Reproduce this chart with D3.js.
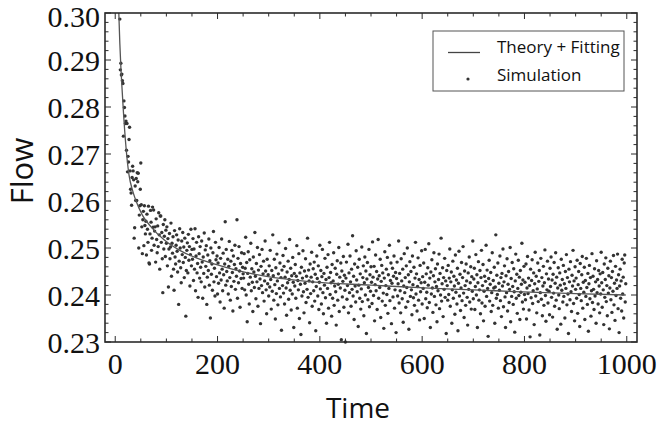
<!DOCTYPE html>
<html><head><meta charset="utf-8">
<script src="https://cdn.jsdelivr.net/npm/d3@7"></script>
<style>html,body{margin:0;padding:0;background:#fff;}svg{display:block;}</style>
</head><body>
<svg id="chart" width="659" height="428"></svg>
<script>
// ---------------- data ----------------
const xTicks = [0, 200, 400, 600, 800, 1000];
const yTicks = [0.23, 0.24, 0.25, 0.26, 0.27, 0.28, 0.29, 0.30];
const yTickLabels = ["0.23", "0.24", "0.25", "0.26", "0.27", "0.28", "0.29", "0.30"];
const xLabel = "Time";
const yLabel = "Flow";
const legendLabels = ["Theory + Fitting", "Simulation"];

// theory + fitting curve
const fitTime = [7, 9, 11, 13, 16, 21, 27, 34, 40, 53, 70, 96, 128, 161, 193, 240, 293, 384, 500, 604, 700, 811, 900, 998];
const fitFlow = [0.3000, 0.2935, 0.2885, 0.2845, 0.2790, 0.2715, 0.2655, 0.2622, 0.2602, 0.2570, 0.2545, 0.2517, 0.2494, 0.2478, 0.2466, 0.2452, 0.2440, 0.2428, 0.2421, 0.2415, 0.2411, 0.2406, 0.2403, 0.2400];

// simulation samples, one per time step starting at t = 9
const simStart = 9;
const simFlow = [
.2987,.2879,.2893,.2868,.2870,.2856,.2850,.2738,.2813,.2799,.2781,.2765,.2770,.2708,.2765,.2662,.2695,.2683,.2731,.2757,.2664,.2625,.2617,.2591,.2650,.2674,.2664,.2645,.2521,.2543,.2632,.2601,.2648,.2601,.2660,.2641,.2659,.2500,.2570,.2590,.2625,.2681,
.2592,.2545,.2488,.2560,.2578,.2505,.2590,.2548,.2530,.2557,.2485,.2572,.2540,.2512,.2589,.2468,.2466,.2530,.2580,.2555,.2495,.2521,.2587,.2544,.2581,.2506,.2536,.2545,.2470,.2562,.2518,.2490,.2547,.2503,.2575,.2528,.2455,.2568,.2568,.2512,.2533,.2477,.2405,.2550,.2498,.2525,.2560,.2482,.2538,.2510,
.2545,.2462,.2520,.2417,.2498,.2531,.2477,.2502,.2553,.2440,.2510,.2489,.2524,.2455,.2410,.2537,.2481,.2466,.2506,.2528,.2493,.2449,.2517,.2380,.2472,.2541,.2500,.2458,.2426,.2515,.2486,.2533,.2469,.2502,.2437,.2521,.2480,.2355,.2452,.2495,.2511,.2447,.2529,.2474,.2503,.2419,.2486,.2540,.2462,.2497,
.2476,.2520,.2431,.2498,.2455,.2541,.2409,.2483,.2512,.2447,.2467,.2395,.2524,.2488,.2436,.2503,.2459,.2428,.2515,.2470,.2393,.2481,.2446,.2532,.2417,.2496,.2461,.2505,.2380,.2438,.2485,.2452,.2519,.2421,.2473,.2351,.2500,.2444,.2466,.2410,.2490,.2535,.2428,.2457,.2398,.2512,.2475,.2439,.2483,.2402,
.2468,.2425,.2501,.2447,.2385,.2478,.2432,.2519,.2455,.2409,.2489,.2443,.2372,.2466,.2556,.2421,.2497,.2450,.2430,.2476,.2402,.2461,.2514,.2437,.2389,.2472,.2418,.2495,.2448,.2366,.2483,.2429,.2465,.2506,.2412,.2456,.2440,.2560,.2393,.2478,.2426,.2503,.2451,.2374,.2467,.2435,.2490,.2414,.2459,.2445,
.2436,.2488,.2411,.2457,.2523,.2400,.2469,.2343,.2446,.2492,.2423,.2381,.2475,.2438,.2510,.2409,.2456,.2427,.2365,.2481,.2449,.2416,.2533,.2440,.2392,.2467,.2428,.2501,.2376,.2453,.2414,.2486,.2434,.2339,.2461,.2420,.2497,.2405,.2445,.2472,.2387,.2430,.2515,.2451,.2411,.2360,.2476,.2424,.2443,.2398,
.2462,.2417,.2495,.2433,.2370,.2452,.2408,.2528,.2441,.2389,.2476,.2422,.2349,.2458,.2403,.2487,.2430,.2379,.2445,.2511,.2414,.2468,.2396,.2437,.2325,.2453,.2420,.2484,.2404,.2461,.2381,.2438,.2499,.2415,.2357,.2449,.2426,.2472,.2391,.2433,.2518,.2410,.2457,.2368,.2441,.2402,.2480,.2427,.2331,.2446,
.2419,.2465,.2393,.2440,.2505,.2372,.2431,.2411,.2488,.2350,.2447,.2423,.2316,.2459,.2398,.2436,.2494,.2407,.2362,.2451,.2425,.2477,.2384,.2440,.2412,.2521,.2395,.2453,.2430,.2341,.2466,.2403,.2438,.2491,.2376,.2428,.2456,.2409,.2470,.2387,.2444,.2324,.2418,.2483,.2435,.2398,.2462,.2369,.2427,.2506,
.2413,.2452,.2381,.2439,.2497,.2405,.2360,.2446,.2421,.2478,.2394,.2433,.2340,.2459,.2414,.2486,.2372,.2437,.2512,.2401,.2448,.2426,.2355,.2465,.2393,.2430,.2490,.2378,.2419,.2457,.2407,.2336,.2444,.2473,.2389,.2423,.2501,.2365,.2438,.2415,.2468,.2305,.2451,.2396,.2429,.2482,.2374,.2442,.2410,.2300,
.2436,.2470,.2391,.2420,.2508,.2362,.2447,.2405,.2483,.2428,.2376,.2455,.2412,.2526,.2398,.2440,.2348,.2466,.2419,.2385,.2494,.2432,.2407,.2459,.2333,.2421,.2476,.2393,.2445,.2370,.2413,.2502,.2386,.2437,.2462,.2356,.2426,.2481,.2400,.2451,.2318,.2434,.2469,.2390,.2416,.2497,.2375,.2443,.2408,.2460,
.2427,.2382,.2513,.2438,.2399,.2461,.2345,.2422,.2485,.2409,.2450,.2369,.2434,.2518,.2393,.2441,.2416,.2476,.2352,.2429,.2463,.2387,.2447,.2404,.2329,.2436,.2492,.2378,.2420,.2455,.2401,.2480,.2361,.2443,.2414,.2506,.2388,.2431,.2468,.2339,.2425,.2457,.2396,.2440,.2483,.2372,.2411,.2448,.2320,.2435,
.2470,.2398,.2424,.2515,.2383,.2446,.2409,.2362,.2477,.2430,.2392,.2455,.2342,.2419,.2488,.2405,.2437,.2374,.2462,.2416,.2500,.2386,.2443,.2327,.2428,.2471,.2397,.2450,.2411,.2358,.2483,.2422,.2394,.2459,.2378,.2436,.2512,.2402,.2445,.2366,.2418,.2479,.2389,.2433,.2347,.2463,.2407,.2426,.2494,.2381,
.2439,.2414,.2468,.2350,.2427,.2497,.2392,.2445,.2406,.2373,.2458,.2421,.2509,.2384,.2436,.2331,.2449,.2402,.2475,.2415,.2363,.2441,.2490,.2397,.2428,.2456,.2379,.2418,.2343,.2466,.2409,.2433,.2487,.2371,.2446,.2400,.2521,.2387,.2424,.2458,.2354,.2437,.2412,.2478,.2395,.2430,.2318,.2452,.2420,.2389,
.2463,.2401,.2436,.2498,.2376,.2428,.2449,.2340,.2411,.2472,.2393,.2440,.2419,.2359,.2485,.2406,.2432,.2381,.2457,.2324,.2425,.2493,.2398,.2444,.2367,.2415,.2469,.2388,.2437,.2503,.2404,.2352,.2451,.2420,.2378,.2466,.2430,.2395,.2336,.2447,.2412,.2481,.2385,.2426,.2460,.2370,.2439,.2408,.2515,.2392,
.2434,.2457,.2369,.2418,.2486,.2400,.2443,.2331,.2426,.2471,.2389,.2411,.2452,.2360,.2437,.2495,.2383,.2420,.2465,.2345,.2408,.2440,.2376,.2429,.2506,.2397,.2453,.2414,.2312,.2435,.2474,.2387,.2423,.2448,.2365,.2405,.2490,.2378,.2431,.2415,.2459,.2340,.2417,.2528,.2393,.2442,.2401,.2468,.2372,.2425,
.2410,.2483,.2388,.2437,.2354,.2446,.2419,.2498,.2375,.2428,.2462,.2396,.2331,.2441,.2405,.2477,.2366,.2423,.2450,.2384,.2412,.2501,.2343,.2435,.2397,.2469,.2418,.2380,.2456,.2407,.2321,.2430,.2487,.2393,.2444,.2361,.2414,.2474,.2399,.2438,.2348,.2452,.2406,.2423,.2510,.2385,.2432,.2370,.2461,.2401,
.2427,.2390,.2466,.2349,.2415,.2482,.2403,.2436,.2368,.2420,.2311,.2455,.2394,.2431,.2475,.2382,.2409,.2447,.2337,.2424,.2491,.2398,.2440,.2362,.2413,.2468,.2386,.2429,.2452,.2315,.2405,.2478,.2391,.2437,.2356,.2419,.2461,.2378,.2426,.2496,.2399,.2344,.2445,.2411,.2472,.2383,.2434,.2408,.2358,.2457,
.2418,.2481,.2395,.2432,.2353,.2444,.2404,.2469,.2376,.2425,.2490,.2389,.2438,.2327,.2415,.2458,.2400,.2371,.2447,.2421,.2338,.2476,.2410,.2433,.2385,.2463,.2397,.2424,.2351,.2450,.2414,.2486,.2379,.2437,.2402,.2318,.2455,.2428,.2390,.2471,.2407,.2365,.2442,.2419,.2495,.2382,.2430,.2345,.2460,.2412,
.2436,.2393,.2474,.2361,.2422,.2450,.2401,.2333,.2467,.2414,.2388,.2443,.2482,.2372,.2427,.2406,.2459,.2348,.2431,.2397,.2478,.2416,.2380,.2446,.2323,.2424,.2463,.2392,.2437,.2355,.2409,.2488,.2384,.2440,.2412,.2369,.2456,.2398,.2428,.2340,.2473,.2405,.2433,.2381,.2452,.2419,.2362,.2445,.2402,.2491,
.2426,.2374,.2448,.2411,.2337,.2466,.2395,.2433,.2479,.2386,.2420,.2356,.2457,.2404,.2441,.2328,.2415,.2472,.2390,.2437,.2363,.2450,.2408,.2484,.2379,.2425,.2346,.2461,.2399,.2432,.2414,.2487,.2371,.2443,.2320,.2419,.2455,.2393,.2430,.2366,.2476,.2402,.2438,.2351,.2468,.2485,.2385,.2424
];
const simTime = simFlow.map((_, i) => simStart + i);

// ---------------- drawing ----------------
(function () {
const pL = 105, pR = 637, pT = 13, pB = 342;
const svg = d3.select("#chart");
const SERIF = '"Liberation Serif"';
const SANS = '"Open Sans"';

const x = d3.scaleLinear().domain([-20, 1020]).range([pL, pR]);
const y = d3.scaleLinear().domain([0.23, 0.30]).range([pB, pT]);

const ink = "#2b2b2b";

// scatter
svg.append("g").selectAll("circle")
  .data(simFlow.map((v, i) => [simTime[i], v]))
  .join("circle")
  .attr("cx", d => x(d[0]))
  .attr("cy", d => y(d[1]))
  .attr("r", 1.7)
  .attr("fill", "#333");

// fitted curve
const line = d3.line().x((d, i) => x(fitTime[i])).y(d => y(d)).curve(d3.curveMonotoneX);
svg.append("path")
  .attr("d", line(fitFlow))
  .attr("fill", "none")
  .attr("stroke", "#555")
  .attr("stroke-width", 1.3);

// frame
svg.append("rect")
  .attr("x", pL).attr("y", pT)
  .attr("width", pR - pL).attr("height", pB - pT)
  .attr("fill", "none").attr("stroke", ink).attr("stroke-width", 1.6);

// ticks (inward, on all four sides)
const xMinor = d3.range(0, 1001, 50);
const yMinor = d3.range(0, 36).map(i => 0.23 + i * 0.002).filter(v => v <= 0.3001);
const tg = svg.append("g").attr("stroke", ink).attr("stroke-width", 1);
const isMajorX = v => xTicks.some(t => Math.abs(t - v) < 1e-6);
const isMajorY = v => yTicks.some(t => Math.abs(t - v) < 1e-6);
xMinor.forEach(v => {
  const L = isMajorX(v) ? 6 : 3.5;
  tg.append("line").attr("x1", x(v)).attr("x2", x(v)).attr("y1", pB).attr("y2", pB - L);
  tg.append("line").attr("x1", x(v)).attr("x2", x(v)).attr("y1", pT).attr("y2", pT + L);
});
yMinor.forEach(v => {
  const L = isMajorY(v) ? 6 : 3.5;
  tg.append("line").attr("y1", y(v)).attr("y2", y(v)).attr("x1", pL).attr("x2", pL + L);
  tg.append("line").attr("y1", y(v)).attr("y2", y(v)).attr("x1", pR).attr("x2", pR - L);
});

// tick labels
svg.append("g").selectAll("text").data(xTicks).join("text")
  .style("font-family", SERIF)
  .attr("x", d => x(d)).attr("y", 374)
  .attr("text-anchor", "middle")
  .attr("font-size", 30).attr("fill", "#111")
  .text(d => d);
svg.append("g").selectAll("text").data(yTicks).join("text")
  .style("font-family", SERIF)
  .attr("x", 100).attr("y", d => Math.max(y(d) + 10.5, 27))
  .attr("text-anchor", "end")
  .attr("font-size", 30).attr("fill", "#111")
  .text((d, i) => yTickLabels[i]);

// axis titles
svg.append("text").style("font-family", SANS).attr("x", 358).attr("y", 418)
  .attr("text-anchor", "middle").attr("font-size", 28).attr("fill", "#111")
  .text(xLabel);
svg.append("text").style("font-family", SANS).attr("transform", "translate(33,171) rotate(-90)")
  .attr("text-anchor", "middle").attr("font-size", 31).attr("fill", "#111")
  .text(yLabel);

// legend
const lg = svg.append("g");
lg.append("rect").attr("x", 433).attr("y", 31).attr("width", 191).attr("height", 60)
  .attr("fill", "#fff").attr("stroke", "#555").attr("stroke-width", 1);
lg.append("line").attr("x1", 448).attr("x2", 480).attr("y1", 52.5).attr("y2", 52.5)
  .attr("stroke", "#444").attr("stroke-width", 1.3);
lg.append("circle").attr("cx", 468).attr("cy", 79).attr("r", 1.6).attr("fill", "#333");
lg.append("text").style("font-family", SANS).attr("x", 497).attr("y", 53).attr("font-size", 17).attr("fill", "#111")
  .text(legendLabels[0]);
lg.append("text").style("font-family", SANS).attr("x", 497).attr("y", 81).attr("font-size", 17).attr("fill", "#111")
  .text(legendLabels[1]);
})();
</script>
</body></html>
